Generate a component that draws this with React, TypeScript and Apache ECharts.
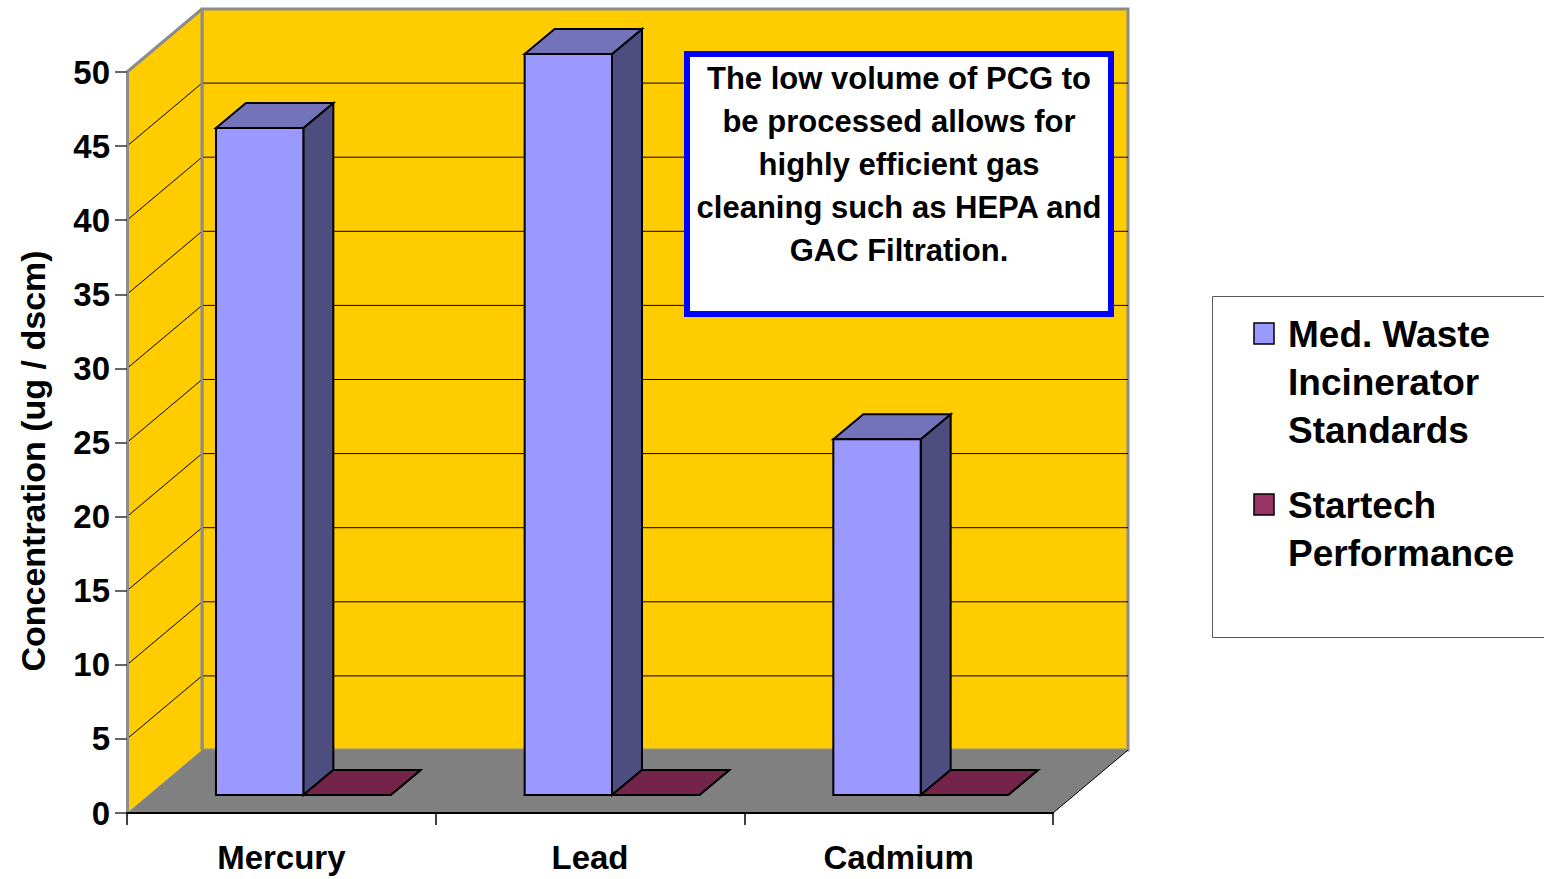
import React, { useEffect, useRef } from "react";
import * as echarts from "echarts";

// ---------- data ----------
const categories = ["Mercury", "Lead", "Cadmium"];
const medWaste = [45, 50, 24];
const startech = [0, 0, 0];
const seriesNames = ["Med. Waste Incinerator Standards", "Startech Performance"];
const yMin = 0;
const yMax = 50;
const yStep = 5;
const yAxisTitle = "Concentration (ug / dscm)";
const noteLines = [
  "The low volume of PCG to",
  "be processed allows for",
  "highly efficient gas",
  "cleaning such as HEPA and",
  "GAC Filtration.",
];
const legendLines = [
  ["Med. Waste", "Incinerator", "Standards"],
  ["Startech", "Performance"],
];

// ---------- styles ----------
const FONT = '"Liberation Sans", Arial, Helvetica, sans-serif';
const WALL = "#FFCC00";
const FLOOR = "#808080";
const FRAME_GRAY = "#8C8C8C";
const DX = 75; // full depth offset
const DY = -63;
const FX = 22; // bar front face offset into depth
const FY = -18;
const BX = 30; // bar depth
const BY = -25;
const BAR_FRAC = 0.283;
const palettes = [
  { front: "#9999FF", top: "#7373B9", side: "#4D4D80" },
  { front: "#993366", top: "#732448", side: "#4D1A33" },
];
const legendColors = ["#9999FF", "#993366"];

function frameRender(params: any, api: any) {
  const cs = params.coordSys;
  const xL = cs.x;
  const xR = cs.x + cs.width;
  const y0 = api.coord([0, yMin])[1];
  const yT = api.coord([0, yMax])[1];
  const children: any[] = [];
  children.push({
    type: "rect",
    shape: { x: xL + DX, y: yT + DY, width: xR - xL, height: y0 - yT },
    style: { fill: WALL, stroke: FRAME_GRAY, lineWidth: 3 },
  });
  children.push({
    type: "polygon",
    shape: {
      points: [
        [xL, yT],
        [xL + DX, yT + DY],
        [xL + DX, y0 + DY],
        [xL, y0],
      ],
    },
    style: { fill: WALL },
  });
  for (let v = yMin + yStep; v < yMax; v += yStep) {
    const y = api.coord([0, v])[1];
    children.push({
      type: "line",
      shape: { x1: xL + DX, y1: y + DY, x2: xR + DX, y2: y + DY },
      style: { stroke: "#000", lineWidth: 1 },
    });
    children.push({
      type: "line",
      shape: { x1: xL, y1: y, x2: xL + DX, y2: y + DY },
      style: { stroke: "#000", lineWidth: 1 },
    });
  }
  children.push({
    type: "line",
    shape: { x1: xL, y1: yT, x2: xL + DX, y2: yT + DY },
    style: { stroke: FRAME_GRAY, lineWidth: 3 },
  });
  children.push({
    type: "line",
    shape: { x1: xL + DX, y1: yT + DY, x2: xL + DX, y2: y0 + DY },
    style: { stroke: FRAME_GRAY, lineWidth: 3 },
  });
  children.push({
    type: "polygon",
    shape: {
      points: [
        [xL, y0],
        [xL + DX, y0 + DY],
        [xR + DX, y0 + DY],
        [xR, y0],
      ],
    },
    style: { fill: FLOOR },
  });
  children.push({
    type: "line",
    shape: { x1: xR, y1: y0, x2: xR + DX, y2: y0 + DY },
    style: { stroke: "#000", lineWidth: 1 },
  });
  return { type: "group", children };
}

function makeBarRender(seriesIdx: number) {
  const pal = palettes[seriesIdx];
  return (params: any, api: any) => {
    const i = api.value(0);
    const v = api.value(1);
    const base = api.coord([i, 0]);
    const top = api.coord([i, v]);
    const catW = api.size([1, 0])[0];
    const w = catW * BAR_FRAC;
    const x0 = base[0] + FX + (seriesIdx === 0 ? -w : 0);
    const x1 = x0 + w;
    const yb = base[1] + FY;
    const yt = top[1] + FY;
    const stroke = { stroke: "#000", lineWidth: 2, lineJoin: "miter" };
    return {
      type: "group",
      children: [
        {
          type: "polygon",
          shape: { points: [[x1, yt], [x1 + BX, yt + BY], [x1 + BX, yb + BY], [x1, yb]] },
          style: { fill: pal.side, ...stroke },
        },
        {
          type: "polygon",
          shape: { points: [[x0, yt], [x0 + BX, yt + BY], [x1 + BX, yt + BY], [x1, yt]] },
          style: { fill: pal.top, ...stroke },
        },
        {
          type: "rect",
          shape: { x: x0, y: yt, width: w, height: yb - yt },
          style: { fill: pal.front, ...stroke },
        },
      ],
    };
  };
}

export default function App() {
  const ref = useRef<HTMLDivElement>(null);
  useEffect(() => {
    if (!ref.current) return;
    const chart = echarts.init(ref.current, null, { renderer: "svg" });
    const legendGraphics: any[] = [
      {
        type: "rect",
        shape: { x: 1212.5, y: 296.5, width: 340, height: 341 },
        style: { fill: "#fff", stroke: "#555", lineWidth: 1 },
        z: 10,
      },
    ];
    const groupTops = [310, 481];
    const markerTops = [323, 494];
    legendLines.forEach((lines, k) => {
      legendGraphics.push({
        type: "rect",
        shape: { x: 1254, y: markerTops[k], width: 20, height: 21 },
        style: { fill: legendColors[k], stroke: "#000", lineWidth: 1.5 },
        z: 11,
      });
      legendGraphics.push({
        type: "text",
        x: 1288,
        y: groupTops[k],
        style: {
          text: lines.join("\n"),
          font: `bold 37px ${FONT}`,
          lineHeight: 48,
          fill: "#000",
          textAlign: "left",
          textVerticalAlign: "top",
        },
        z: 11,
      });
    });
    chart.setOption({
      animation: false,
      grid: {
        left: 127,
        top: 72,
        right: 491,
        bottom: 66,
        containLabel: false,
        outerBoundsMode: "none",
      },
      xAxis: {
        type: "category",
        data: categories,
        boundaryGap: true,
        z: 5,
        axisLine: { show: true, lineStyle: { color: "#000", width: 2 } },
        axisTick: { show: true, length: 12, lineStyle: { color: "#000", width: 1.5 } },
        axisLabel: {
          fontFamily: FONT,
          fontWeight: "bold",
          fontSize: 33,
          color: "#000",
          margin: 28,
        },
        splitLine: { show: false },
      },
      yAxis: {
        type: "value",
        min: yMin,
        max: yMax,
        interval: yStep,
        z: 5,
        axisLine: { show: true, lineStyle: { color: FRAME_GRAY, width: 3 } },
        axisTick: { show: true, length: 12, lineStyle: { color: "#333", width: 1.5 } },
        axisLabel: {
          fontFamily: FONT,
          fontWeight: "bold",
          fontSize: 33,
          color: "#000",
          margin: 17,
        },
        splitLine: { show: false },
      },
      series: [
        {
          type: "custom",
          name: "frame",
          z: 1,
          silent: true,
          renderItem: frameRender,
          data: [[0, 0]],
        },
        {
          type: "custom",
          name: seriesNames[0],
          z: 3,
          renderItem: makeBarRender(0),
          data: medWaste.map((v, i) => [i, v]),
        },
        {
          type: "custom",
          name: seriesNames[1],
          z: 4,
          renderItem: makeBarRender(1),
          data: startech.map((v, i) => [i, v]),
        },
      ],
      graphic: [
        {
          type: "text",
          x: 33,
          y: 461,
          rotation: Math.PI / 2,
          style: {
            text: yAxisTitle,
            font: `bold 34px ${FONT}`,
            fill: "#000",
            textAlign: "center",
            textVerticalAlign: "middle",
          },
          z: 11,
        },
        {
          type: "rect",
          shape: { x: 687, y: 54, width: 424, height: 260 },
          style: { fill: "#fff", stroke: "#0000FF", lineWidth: 6 },
          z: 10,
        },
        {
          type: "text",
          x: 899,
          y: 57,
          style: {
            text: noteLines.join("\n"),
            font: `bold 31px ${FONT}`,
            lineHeight: 43,
            fill: "#000",
            textAlign: "center",
            textVerticalAlign: "top",
          },
          z: 11,
        },
        ...legendGraphics,
      ],
    });
    return () => chart.dispose();
  }, []);
  return (
    <div
      ref={ref}
      style={{ position: "absolute", left: 0, top: 0, width: 1544, height: 879, background: "#fff" }}
    />
  );
}
